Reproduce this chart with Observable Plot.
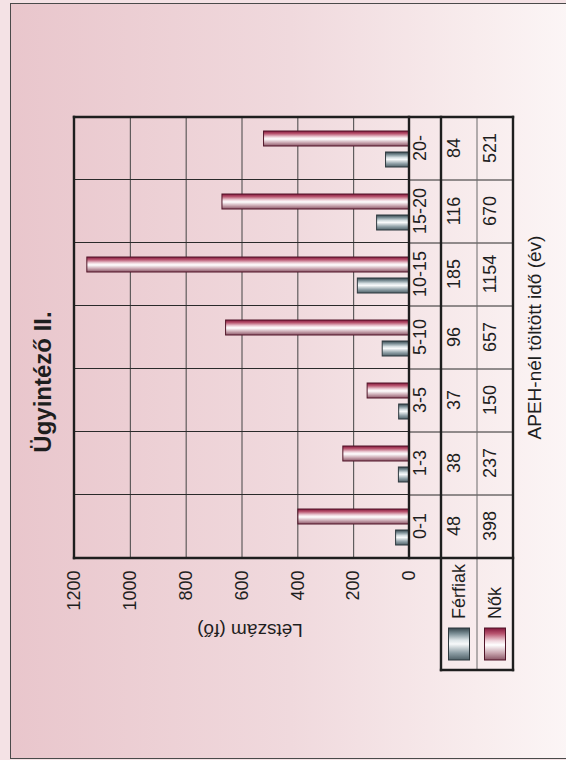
<!DOCTYPE html>
<html>
<head>
<meta charset="utf-8">
<script src="https://cdn.jsdelivr.net/npm/d3@7"></script>
<script src="https://cdn.jsdelivr.net/npm/@observablehq/plot@0.6"></script>
<style>
html, body { margin: 0; padding: 0; width: 566px; height: 760px; overflow: hidden; background: #f4e2e5; }
#frame { position: absolute; left: 0; top: 0; width: 760px; height: 566px; overflow: hidden;
  transform-origin: 0 0; transform: translate(0px, 760px) rotate(-90deg);
  font-family: "Liberation Sans", Arial, sans-serif; color: #1e1e1e; }
#panel { position: absolute; left: 1px; top: 10px; width: 754px; height: 620px;
  border: 1.5px solid #4a4a4a;
  background: linear-gradient(to bottom, #e9c6cc 0%, #f0d9dd 45%, #f8eced 75%, #fefcfc 100%); }
#title { position: absolute; left: 0; width: 756px; top: 31px; text-align: center;
  font-weight: bold; font-size: 24px; line-height: 1; white-space: nowrap; }
#chart { position: absolute; left: 0; top: 0; }
#ylabel, #xlabel { position: absolute; white-space: nowrap; line-height: 1; }
#ylabel { font-size: 19px; transform: translate(-50%, -50%) rotate(-90deg); }
#xlabel { font-size: 19px; transform: translate(-50%, -50%); }
</style>
</head>
<body>
<svg width="0" height="0" style="position:absolute">
  <defs>
    <linearGradient id="gF" x1="0" y1="0" x2="1" y2="0">
      <stop offset="0" stop-color="#4f6067"/>
      <stop offset="0.22" stop-color="#8d9ea5"/>
      <stop offset="0.5" stop-color="#f7f9fa"/>
      <stop offset="0.62" stop-color="#dce4e7"/>
      <stop offset="0.82" stop-color="#7d9097"/>
      <stop offset="1" stop-color="#34444b"/>
    </linearGradient>
    <linearGradient id="gN" x1="0" y1="0" x2="1" y2="0">
      <stop offset="0" stop-color="#8a5566"/>
      <stop offset="0.22" stop-color="#c9a6b0"/>
      <stop offset="0.47" stop-color="#ffffff"/>
      <stop offset="0.6" stop-color="#efd5dc"/>
      <stop offset="0.82" stop-color="#b95670"/>
      <stop offset="1" stop-color="#82163a"/>
    </linearGradient>
  </defs>
</svg>
<div id="frame">
  <div id="panel"></div>
  <div id="title">Ügyintéző II.</div>
  <div id="chart"></div>
  <div id="ylabel">Létszám (fő)</div>
  <div id="xlabel">APEH-nél töltött idő (év)</div>
</div>
<script>
// ---- data ----
const categories = ["0-1", "1-3", "3-5", "5-10", "10-15", "15-20", "20-"];
const ferfiak = [48, 38, 37, 96, 185, 116, 84];
const nok = [398, 237, 150, 657, 1154, 670, 521];
const series = ["Férfiak", "Nők"];
const yTicks = [0, 200, 400, 600, 800, 1000, 1200];

const rowsF = categories.map((c, i) => ({cat: c, s: series[0], v: ferfiak[i]}));
const rowsN = categories.map((c, i) => ({cat: c, s: series[1], v: nok[i]}));
const table = categories.map((c, i) => ({cat: c, f: String(ferfiak[i]), n: String(nok[i])}));

// ---- layout (original, unrotated frame) ----
const W = 760, H = 566;
const mL = 201, mR = 116, mT = 74, mB = 157;
const rowEdges = [0, 32, 68, 104];          // table rows below the zero line
const legendW = 112;
const font = '"Liberation Sans", Arial, sans-serif';
const ink = "#1e1e1e";

const chart = Plot.plot({
  width: W, height: H,
  marginLeft: mL, marginRight: mR, marginTop: mT, marginBottom: mB,
  style: {background: "transparent", fontFamily: font, fontSize: "18px", color: ink, overflow: "visible"},
  fx: {domain: categories, padding: 0, axis: null, label: null},
  x: {domain: series, paddingInner: 0.273, paddingOuter: 0.575, axis: null},
  y: {domain: [0, 1200], axis: null},
  marks: [
    Plot.gridY(yTicks.slice(1, -1), {stroke: "#444", strokeOpacity: 1, strokeWidth: 1}),
    Plot.frame({stroke: "#2a2a2a", strokeWidth: 1}),
    Plot.barY(rowsF, {fx: "cat", x: "s", y: "v", fill: "url(#gF)", stroke: "#2d393e", strokeWidth: 1}),
    Plot.barY(rowsN, {fx: "cat", x: "s", y: "v", fill: "url(#gN)", stroke: "#501528", strokeWidth: 1}),
    Plot.axisY(yTicks, {anchor: "left", tickSize: 0, tickPadding: 13, fontSize: 18, label: null, fill: ink,
      tickFormat: d => String(d)}),
    Plot.text(table, {fx: "cat", text: "cat", frameAnchor: "bottom", dy: (rowEdges[0] + rowEdges[1]) / 2, fontSize: 18, fill: ink}),
    Plot.text(table, {fx: "cat", text: "f", frameAnchor: "bottom", dy: (rowEdges[1] + rowEdges[2]) / 2, fontSize: 18, fill: ink}),
    Plot.text(table, {fx: "cat", text: "n", frameAnchor: "bottom", dy: (rowEdges[2] + rowEdges[3]) / 2, fontSize: 18, fill: ink})
  ]
});
document.getElementById("chart").appendChild(chart);

// ---- table grid and legend drawn from the plot's scales ----
const fx = chart.scale("fx"), y = chart.scale("y");
const uL = fx.apply(categories[0]);
const uR = fx.apply(categories[categories.length - 1]) + fx.bandwidth;
const vTop = y.apply(1200), v0 = y.apply(0);
const vRow = rowEdges.map(r => v0 + r);
const uLeg = uL - legendW;

const svg = d3.select(chart);
const g = svg.append("g").attr("stroke-linecap", "square");
function line(x1, y1, x2, y2, w, c) {
  g.append("line").attr("x1", x1).attr("y1", y1).attr("x2", x2).attr("y2", y2)
    .attr("stroke", c).attr("stroke-width", w);
}
// band separators through the table
categories.slice(1).forEach(c => line(fx.apply(c), v0, fx.apply(c), vRow[3], 1, "#2a2a2a"));
// thin divider between the two data rows
line(uLeg, vRow[2], uR, vRow[2], 1, "#6a6a6a");
// thick outlines
const T = 2.4;
line(uL, vTop, uR, vTop, T, ink);
line(uL, vTop, uL, vRow[3], T, ink);
line(uR, vTop, uR, vRow[3], T, ink);
line(uL, v0, uR, v0, T, ink);
line(uLeg, vRow[1], uR, vRow[1], T, ink);
line(uLeg, vRow[3], uR, vRow[3], T, ink);
line(uLeg, vRow[1], uLeg, vRow[3], T, ink);

// legend entries
const legend = [
  {name: series[0], fill: "url(#gF)", stroke: "#2d393e", r: 1},
  {name: series[1], fill: "url(#gN)", stroke: "#501528", r: 2}
];
legend.forEach(d => {
  const top = vRow[d.r], bottom = vRow[d.r + 1], mid = (top + bottom) / 2;
  g.append("rect").attr("x", uLeg + 10).attr("y", mid - 10.5).attr("width", 32).attr("height", 21)
    .attr("fill", d.fill).attr("stroke", d.stroke).attr("stroke-width", 1);
  g.append("text").attr("x", uLeg + 51).attr("y", mid).attr("dy", "0.35em")
    .attr("text-anchor", "start")
    .attr("fill", ink).attr("font-size", 18).attr("font-family", font).text(d.name);
});

// axis titles positioned from the scales
const yl = document.getElementById("ylabel");
yl.style.left = (uL - 72) + "px";
yl.style.top = ((vTop + v0) / 2 + 8) + "px";
const xl = document.getElementById("xlabel");
xl.style.left = ((uL + uR) / 2) + "px";
xl.style.top = (vRow[3] + 21) + "px";
</script>
</body>
</html>
